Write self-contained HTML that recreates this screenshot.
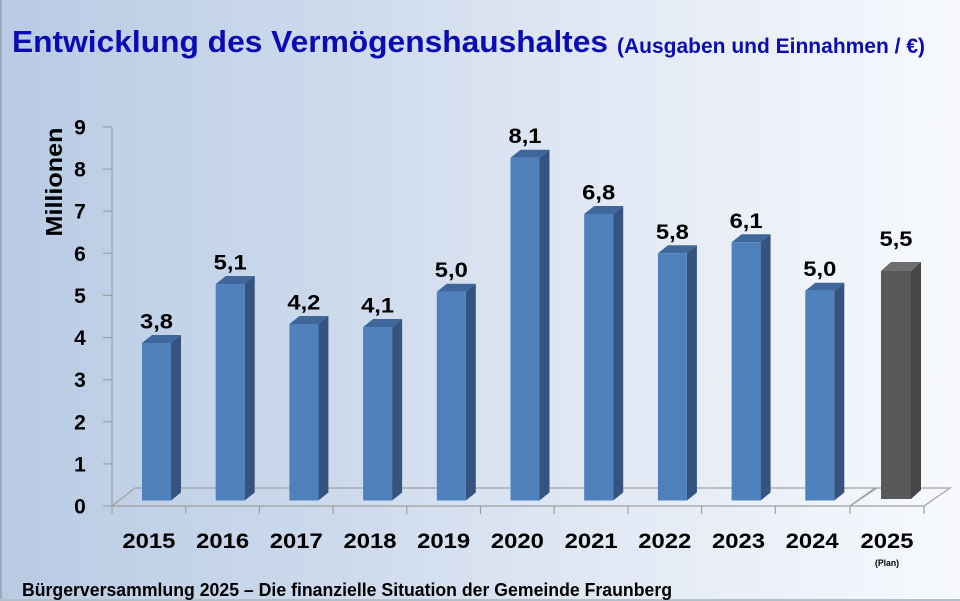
<!DOCTYPE html>
<html><head><meta charset="utf-8">
<style>
html,body{margin:0;padding:0;}
body{width:960px;height:601px;overflow:hidden;background:linear-gradient(to right,#b8cbe4 0%,#cddaec 35%,#e3eaf5 65%,#f7f9fd 100%);}
svg{display:block;}
text{font-family:"Liberation Sans",sans-serif;font-weight:bold;}
</style></head>
<body>
<svg width="960" height="601" viewBox="0 0 960 601" xmlns="http://www.w3.org/2000/svg">
<rect x="0" y="0" width="2" height="601" fill="#9ea8b6"/>
<rect x="0" y="599" width="960" height="2" fill="#b4bfcd"/>
<text x="12" y="52" font-size="31" fill="#0b0bb5" textLength="596" lengthAdjust="spacingAndGlyphs">Entwicklung des Vermögenshaushaltes</text>
<text x="617" y="53" font-size="21" fill="#0b0bb5" textLength="308" lengthAdjust="spacingAndGlyphs">(Ausgaben und Einnahmen / €)</text>
<text transform="translate(62,182) rotate(-90)" x="0" y="0" font-size="23" fill="#000" text-anchor="middle" textLength="109" lengthAdjust="spacingAndGlyphs">Millionen</text>
<g stroke="#a0a0a0" stroke-width="1.2" fill="none">
<line x1="112" y1="127" x2="112" y2="506"/>
<line x1="103" y1="127" x2="112" y2="127"/>
<line x1="103" y1="169.1" x2="112" y2="169.1"/>
<line x1="103" y1="211.2" x2="112" y2="211.2"/>
<line x1="103" y1="253.3" x2="112" y2="253.3"/>
<line x1="103" y1="295.4" x2="112" y2="295.4"/>
<line x1="103" y1="337.6" x2="112" y2="337.6"/>
<line x1="103" y1="379.7" x2="112" y2="379.7"/>
<line x1="103" y1="421.8" x2="112" y2="421.8"/>
<line x1="103" y1="463.9" x2="112" y2="463.9"/>
<line x1="103" y1="506" x2="112" y2="506"/>
<polyline points="112,506 850,506 875,488 135,488 112,506"/>
<polyline points="850,506 924,506 950,488 877,488 850,506"/>
<line x1="112" y1="506" x2="112" y2="514"/>
<line x1="185.7" y1="506" x2="185.7" y2="514"/>
<line x1="259.4" y1="506" x2="259.4" y2="514"/>
<line x1="333.1" y1="506" x2="333.1" y2="514"/>
<line x1="406.8" y1="506" x2="406.8" y2="514"/>
<line x1="480.5" y1="506" x2="480.5" y2="514"/>
<line x1="554.2" y1="506" x2="554.2" y2="514"/>
<line x1="627.9" y1="506" x2="627.9" y2="514"/>
<line x1="701.6" y1="506" x2="701.6" y2="514"/>
<line x1="775.3" y1="506" x2="775.3" y2="514"/>
<line x1="850" y1="506" x2="850" y2="514"/>
<line x1="924" y1="506" x2="924" y2="514"/>
</g>
<g font-size="21" fill="#000" text-anchor="middle">
<text x="80" y="134.5">9</text>
<text x="80" y="176.6">8</text>
<text x="80" y="218.7">7</text>
<text x="80" y="260.8">6</text>
<text x="80" y="302.9">5</text>
<text x="80" y="345.1">4</text>
<text x="80" y="387.2">3</text>
<text x="80" y="429.3">2</text>
<text x="80" y="471.4">1</text>
<text x="80" y="513.5">0</text>
</g>
<g>
<polygon points="142,343 171,343 181,335 152,335" fill="#3f679c"/>
<polygon points="171,343 181,335 181,492.5 171,500.5" fill="#34537f"/>
<rect x="142" y="343" width="29" height="157.5" fill="#4f81bd"/>
<polygon points="215.7,284 244.7,284 254.7,276 225.7,276" fill="#3f679c"/>
<polygon points="244.7,284 254.7,276 254.7,492.5 244.7,500.5" fill="#34537f"/>
<rect x="215.7" y="284" width="29" height="216.5" fill="#4f81bd"/>
<polygon points="289.4,324 318.4,324 328.4,316 299.4,316" fill="#3f679c"/>
<polygon points="318.4,324 328.4,316 328.4,492.5 318.4,500.5" fill="#34537f"/>
<rect x="289.4" y="324" width="29" height="176.5" fill="#4f81bd"/>
<polygon points="363.1,327 392.1,327 402.1,319 373.1,319" fill="#3f679c"/>
<polygon points="392.1,327 402.1,319 402.1,492.5 392.1,500.5" fill="#34537f"/>
<rect x="363.1" y="327" width="29" height="173.5" fill="#4f81bd"/>
<polygon points="436.8,291.7 465.8,291.7 475.8,283.7 446.8,283.7" fill="#3f679c"/>
<polygon points="465.8,291.7 475.8,283.7 475.8,492.5 465.8,500.5" fill="#34537f"/>
<rect x="436.8" y="291.7" width="29" height="208.8" fill="#4f81bd"/>
<polygon points="510.5,157.7 539.5,157.7 549.5,149.7 520.5,149.7" fill="#3f679c"/>
<polygon points="539.5,157.7 549.5,149.7 549.5,492.5 539.5,500.5" fill="#34537f"/>
<rect x="510.5" y="157.7" width="29" height="342.8" fill="#4f81bd"/>
<polygon points="584.2,214 613.2,214 623.2,206 594.2,206" fill="#3f679c"/>
<polygon points="613.2,214 623.2,206 623.2,492.5 613.2,500.5" fill="#34537f"/>
<rect x="584.2" y="214" width="29" height="286.5" fill="#4f81bd"/>
<polygon points="657.9,253.3 686.9,253.3 696.9,245.3 667.9,245.3" fill="#3f679c"/>
<polygon points="686.9,253.3 696.9,245.3 696.9,492.5 686.9,500.5" fill="#34537f"/>
<rect x="657.9" y="253.3" width="29" height="247.2" fill="#4f81bd"/>
<polygon points="731.6,242.3 760.6,242.3 770.6,234.3 741.6,234.3" fill="#3f679c"/>
<polygon points="760.6,242.3 770.6,234.3 770.6,492.5 760.6,500.5" fill="#34537f"/>
<rect x="731.6" y="242.3" width="29" height="258.2" fill="#4f81bd"/>
<polygon points="805.3,290.7 834.3,290.7 844.3,282.7 815.3,282.7" fill="#3f679c"/>
<polygon points="834.3,290.7 844.3,282.7 844.3,492.5 834.3,500.5" fill="#34537f"/>
<rect x="805.3" y="290.7" width="29" height="209.8" fill="#4f81bd"/>
<polygon points="881,271 911,271 921,262 891,262" fill="#6e6e6e"/>
<polygon points="911,271 921,262 921,490 911,499" fill="#474747"/>
<rect x="881" y="271" width="30" height="228" fill="#595959"/>
</g>
<g font-size="21" fill="#000" text-anchor="middle">
<text x="156.5" y="328.5" textLength="33" lengthAdjust="spacingAndGlyphs">3,8</text>
<text x="230.2" y="269.5" textLength="33" lengthAdjust="spacingAndGlyphs">5,1</text>
<text x="303.9" y="309.5" textLength="33" lengthAdjust="spacingAndGlyphs">4,2</text>
<text x="377.6" y="312.5" textLength="33" lengthAdjust="spacingAndGlyphs">4,1</text>
<text x="451.3" y="277.2" textLength="33" lengthAdjust="spacingAndGlyphs">5,0</text>
<text x="525" y="143.2" textLength="33" lengthAdjust="spacingAndGlyphs">8,1</text>
<text x="598.7" y="199.5" textLength="33" lengthAdjust="spacingAndGlyphs">6,8</text>
<text x="672.4" y="238.8" textLength="33" lengthAdjust="spacingAndGlyphs">5,8</text>
<text x="746.1" y="227.8" textLength="33" lengthAdjust="spacingAndGlyphs">6,1</text>
<text x="819.8" y="276.2" textLength="33" lengthAdjust="spacingAndGlyphs">5,0</text>
<text x="896" y="246" textLength="33" lengthAdjust="spacingAndGlyphs">5,5</text>
</g>
<g font-size="21" fill="#000" text-anchor="middle">
<text x="148.9" y="548" textLength="53" lengthAdjust="spacingAndGlyphs">2015</text>
<text x="222.6" y="548" textLength="53" lengthAdjust="spacingAndGlyphs">2016</text>
<text x="296.3" y="548" textLength="53" lengthAdjust="spacingAndGlyphs">2017</text>
<text x="370" y="548" textLength="53" lengthAdjust="spacingAndGlyphs">2018</text>
<text x="443.7" y="548" textLength="53" lengthAdjust="spacingAndGlyphs">2019</text>
<text x="517.4" y="548" textLength="53" lengthAdjust="spacingAndGlyphs">2020</text>
<text x="591.1" y="548" textLength="53" lengthAdjust="spacingAndGlyphs">2021</text>
<text x="664.8" y="548" textLength="53" lengthAdjust="spacingAndGlyphs">2022</text>
<text x="738.5" y="548" textLength="53" lengthAdjust="spacingAndGlyphs">2023</text>
<text x="812.2" y="548" textLength="53" lengthAdjust="spacingAndGlyphs">2024</text>
<text x="887" y="548" textLength="53" lengthAdjust="spacingAndGlyphs">2025</text>
<text x="887" y="566" font-size="9" textLength="24" lengthAdjust="spacingAndGlyphs">(Plan)</text>
</g>
<text x="22" y="596" font-size="18" fill="#000" textLength="650" lengthAdjust="spacingAndGlyphs">Bürgerversammlung 2025 – Die finanzielle Situation der Gemeinde Fraunberg</text>
</svg>
</body></html>
